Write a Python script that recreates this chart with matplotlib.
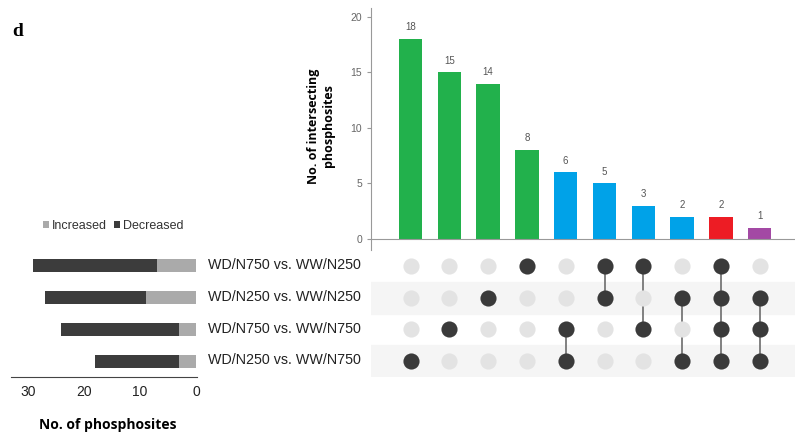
import numpy as np
import matplotlib.pyplot as plt

# set sizes (left panel), rows top to bottom
set_names = ['WD/N750 vs. WW/N250', 'WD/N250 vs. WW/N250',
             'WD/N750 vs. WW/N750', 'WD/N250 vs. WW/N750']
increased = [7, 9, 3, 3]
decreased = [22, 18, 21, 15]

# intersections (top panel)
inter_sizes = [18, 15, 14, 8, 6, 5, 3, 2, 2, 1]
inter_members = [[3], [2], [1], [0], [2, 3], [0, 1], [0, 2], [1, 3],
                 [0, 1, 2, 3], [1, 2, 3]]
inter_colors = ['#22b14c', '#22b14c', '#22b14c', '#22b14c', '#00a2e8',
                '#00a2e8', '#00a2e8', '#00a2e8', '#ed1c24', '#a349a4']

W, H = 795, 438
fig = plt.figure(figsize=(W / 100, H / 100), dpi=100)
plt.rcParams['font.family'] = ['Liberation Sans', 'DejaVu Sans']


def box(x0, y0, x1, y1):
    # pixel box (top-left origin) -> figure fraction
    return [x0 / W, 1 - y1 / H, (x1 - x0) / W, (y1 - y0) / H]


ncol = len(inter_sizes)
xpos = np.arange(ncol)
step = 38.8
x_lo = (371 - 410.5) / step
x_hi = (795 - 410.5) / step

# top bar chart
ax_top = fig.add_axes(box(371, 8, 795, 250))
ax_top.bar(xpos, inter_sizes, width=0.6, color=inter_colors)
for x, v in zip(xpos, inter_sizes):
    ax_top.text(x, v + 0.6, str(v), ha='center', va='bottom', fontsize=7,
                color='#555555')
ax_top.set_xlim(x_lo, x_hi)
ax_top.set_ylim(-0.99, 20.8)
ax_top.set_yticks([0, 5, 10, 15, 20])
ax_top.set_xticks([])
ax_top.spines['top'].set_visible(False)
ax_top.spines['right'].set_visible(False)
ax_top.spines['bottom'].set_position(('data', 0))
ax_top.spines['bottom'].set_color('#999999')
ax_top.spines['left'].set_color('#999999')
ax_top.tick_params(axis='y', colors='#999999', labelcolor='#666666',
                   labelsize=7.5, length=3, width=0.8)
fig.text(321 / W, 1 - 126 / H, 'No. of intersecting\nphosphosites',
         rotation=90, ha='center', va='center', fontsize=9,
         fontweight='bold', family='Open Sans', linespacing=1.1)

# matrix
ax_m = fig.add_axes(box(371, 250, 795, 377))
ax_m.set_xlim(x_lo, x_hi)
ax_m.set_ylim(3.5, -0.5)
for r in [1, 3]:
    ax_m.axhspan(r - 0.5, r + 0.5, color='#f5f5f5', zorder=0)
for c, members in enumerate(inter_members):
    for r in range(len(set_names)):
        on = r in members
        ax_m.scatter(c, r, s=135, color='#3a3a3a' if on else '#e3e3e3',
                     zorder=3, linewidths=0)
    if len(members) > 1:
        ax_m.plot([c, c], [min(members), max(members)], color='#777777',
                  lw=1.3, zorder=2)
ax_m.axis('off')

# left set-size bars
ax_l = fig.add_axes(box(11, 250, 197, 377))
rows = np.arange(len(set_names))
ax_l.barh(rows, increased, height=0.41, color='#aaaaaa', label='Increased')
ax_l.barh(rows, decreased, left=increased, height=0.41, color='#3c3c3c',
          label='Decreased')
ax_l.set_xlim(33.0, -0.18)
ax_l.set_ylim(3.5, -0.5)
ax_l.set_xticks([30, 20, 10, 0])
ax_l.set_yticks([])
for s in ['top', 'right', 'left']:
    ax_l.spines[s].set_visible(False)
ax_l.spines['bottom'].set_color('#444444')
ax_l.tick_params(axis='x', length=0, labelsize=10, pad=6, labelcolor='#222222')
ax_l.legend(ncol=2, frameon=False, loc='center', fontsize=9,
            bbox_to_anchor=(113 / W, 1 - 226 / H),
            bbox_transform=fig.transFigure, handlelength=0.5,
            handleheight=0.5, handletextpad=0.2, columnspacing=0.6,
            labelcolor='#333333')
fig.text(108 / W, 1 - 425 / H, 'No. of phosphosites', ha='center',
         va='center', fontsize=10, fontweight='bold', family='Open Sans')

for r, name in enumerate(set_names):
    ypx = [265, 297, 329, 360][r]
    fig.text(208 / W, 1 - ypx / H, name, ha='left', va='center',
             fontsize=10.3, color='#222222')

fig.text(12 / W, 1 - 32 / H, 'd', ha='left', va='center', fontsize=14,
         fontweight='bold', family='Liberation Serif')

fig.savefig('out.png', dpi=100)
